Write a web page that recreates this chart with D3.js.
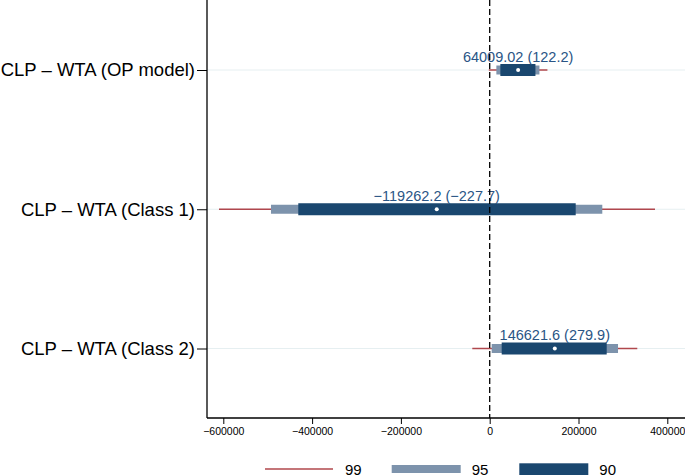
<!DOCTYPE html>
<html><head><meta charset="utf-8">
<script src="https://cdn.jsdelivr.net/npm/d3@7"></script>
<style>body{margin:0;background:#fff}svg{display:block}text{font-family:"Liberation Sans",Arial,Helvetica,sans-serif}</style>
</head><body><svg id="c" width="685" height="476"></svg>
<script>
const categories = ["CLP – WTA (OP model)", "CLP – WTA (Class 1)", "CLP – WTA (Class 2)"];
const estimates = [64009.02, -119262.2, 146621.6];
const labels = ["64009.02 (122.2)", "−119262.2 (−227.7)", "146621.6 (279.9)"];
const ci99Low = [-2000, -609700, -39200];
const ci99High = [130000, 372300, 332400];
const ci95Low = [15000, -492600, 4500];
const ci95High = [112000, 253600, 289000];
const ci90Low = [24000, -431100, 27000];
const ci90High = [103000, 193700, 263500];
const xTicks = [-600000, -400000, -200000, 0, 200000, 400000];
const legendLabels = ["99", "95", "90"];

(function(){
const colRed = "#b0474d", colLight = "#7d93ac", colDark = "#1a476f";
const svg = d3.select("#c");
const x = d3.scaleLinear().domain([-600000, 400000]).range([223.3, 667.3]);
const y = d3.scaleLinear().domain([1, 3]).range([70, 348.5]);
const pL = 207, pB = 418, pR = 685, pT = 0;

svg.append("g").selectAll("line").data(categories).join("line")
  .attr("x1", pL).attr("x2", pR)
  .attr("y1", (d,i)=>y(i+1)).attr("y2", (d,i)=>y(i+1))
  .attr("stroke", "#e6eff1").attr("stroke-width", 1);

const rows = categories.map((c,i)=>({i}));
const g = svg.append("g");
g.selectAll("line.r99").data(rows).join("line").attr("class","r99")
  .attr("x1", d=>x(ci99Low[d.i])).attr("x2", d=>x(ci99High[d.i]))
  .attr("y1", d=>y(d.i+1)).attr("y2", d=>y(d.i+1))
  .attr("stroke", colRed).attr("stroke-width", 1.6);
g.selectAll("rect.r95").data(rows).join("rect").attr("class","r95")
  .attr("x", d=>x(ci95Low[d.i])).attr("width", d=>x(ci95High[d.i])-x(ci95Low[d.i]))
  .attr("y", d=>y(d.i+1)-4.5).attr("height", 9).attr("fill", colLight);
g.selectAll("rect.r90").data(rows).join("rect").attr("class","r90")
  .attr("x", d=>x(ci90Low[d.i])).attr("width", d=>x(ci90High[d.i])-x(ci90Low[d.i]))
  .attr("y", d=>y(d.i+1)-6).attr("height", 12).attr("fill", colDark);

svg.append("line").attr("x1", x(0)).attr("x2", x(0)).attr("y1", pT).attr("y2", pB)
  .attr("stroke", "#000").attr("stroke-width", 1.3).attr("stroke-dasharray", "6,3");

g.selectAll("circle").data(rows).join("circle")
  .attr("cx", d=>x(estimates[d.i])).attr("cy", d=>y(d.i+1)).attr("r", 2).attr("fill", "#fff");

g.selectAll("text.lab").data(rows).join("text").attr("class","lab")
  .attr("x", d=>x(estimates[d.i])).attr("y", d=>y(d.i+1)-8.5)
  .attr("text-anchor", "middle").attr("font-size", 14.5).attr("fill", "#2a5585")
  .text(d=>labels[d.i]);

const xAxis = d3.axisBottom(x).tickValues(xTicks).tickSize(6).tickPadding(4).tickFormat(d=>d3.format("d")(d).replace("-", "−"));
const xa = svg.append("g").attr("transform", `translate(0,${pB})`).call(xAxis);
xa.select(".domain").remove();
xa.selectAll("text").attr("font-size", 10.5).attr("fill", "#000");
svg.append("line").attr("x1", pL).attr("x2", pR).attr("y1", pB).attr("y2", pB).attr("stroke", "#000").attr("stroke-width", 1.3);

const yAxis = d3.axisLeft(y).tickValues([1,2,3]).tickSize(10).tickPadding(2).tickFormat(d=>categories[d-1]);
const ya = svg.append("g").attr("transform", `translate(${pL},0)`).call(yAxis);
ya.select(".domain").remove();
ya.selectAll("text").attr("font-size", 18.5).attr("fill", "#000");
svg.append("line").attr("x1", pL).attr("x2", pL).attr("y1", pT).attr("y2", pB).attr("stroke", "#000").attr("stroke-width", 1.3);

const lg = svg.append("g");
const lx = [265, 391.7, 519.3];
lg.append("line").attr("x1", lx[0]).attr("x2", lx[0]+68).attr("y1", 469).attr("y2", 469).attr("stroke", colRed).attr("stroke-width", 1.6);
lg.append("rect").attr("x", lx[1]).attr("width", 69).attr("y", 465).attr("height", 8).attr("fill", colLight);
lg.append("rect").attr("x", lx[2]).attr("width", 69).attr("y", 463.3).attr("height", 11.7).attr("fill", colDark);
lg.selectAll("text").data(legendLabels).join("text")
  .attr("x", (d,i)=>lx[i]+80).attr("y", 474.5).attr("font-size", 15).attr("fill", "#000").text(d=>d);
})();
</script></body></html>
